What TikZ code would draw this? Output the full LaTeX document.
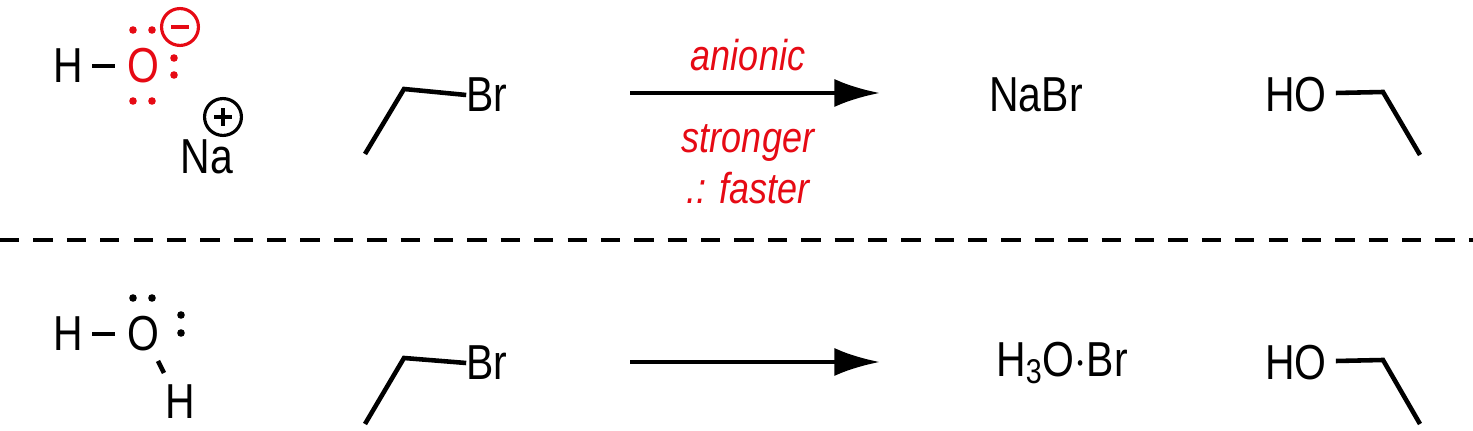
\documentclass[tikz,border=0pt]{standalone}
\usepackage{fontspec}
\setmainfont{Liberation Sans}
\usetikzlibrary{arrows.meta}
\definecolor{chemred}{RGB}{230,10,20}
\newcommand{\tall}[1]{\scalebox{1}[1.2]{#1}}
\tikzset{
	atom/.style={inner sep=0pt, font=\fontsize{23.3}{26}\selectfont},
	cond/.style={inner sep=0pt, text=chemred, font=\fontsize{20.5}{24}\selectfont\itshape},
	bond/.style={line width=2.6pt},
	charge/.style={circle, draw, line width=1.8pt, minimum size=21pt, inner sep=0pt}
}
\begin{document}
\begin{tikzpicture}[x=0.02cm, y=-0.02cm]
	\useasboundingbox (0,0) rectangle (1473,431);
	% Hydroxide
	\node[atom] (H1) at (68,66) {\tall{H}};
	\node[atom, text=chemred] (O1) at (143,66) {\tall{O}};
	\draw[bond] (92,66) -- (115,66);
	\fill[chemred] (133,30) circle[radius=3.8] (152,30) circle[radius=3.8]
		(174,58) circle[radius=3.8] (174,75) circle[radius=3.8]
		(133,101) circle[radius=3.8] (152,101) circle[radius=3.8];
	\node[charge, draw=chemred] (minus) at (180,27) {};
	\draw[chemred, line width=2pt] ([xshift=-5pt]minus.center) -- ([xshift=5pt]minus.center);
	\node[charge] (plus) at (223,117) {};
	\draw[line width=2pt] ([xshift=-5pt]plus.center) -- ([xshift=5pt]plus.center)
		([yshift=-5pt]plus.center) -- ([yshift=5pt]plus.center);
	\node[atom] (Na) at (207,157) {\tall{Na}};
	% Bromoethane
	\coordinate (c1) at (365,154);
	\node[atom] (Br1) at (487,95) {\tall{Br}};
	\draw[bond] (c1) -- (404,89) -- (Br1.west);
	% Arrow
	\coordinate (a1) at (630,93);
	\coordinate (a2) at (880,93);
	\draw[bond, -{Latex[length=26pt, width=16pt]}] (a1) -- (a2);
	\node[cond] (l1) at (748,55) {\tall{anionic}};
	\node[cond] (l2) at (748,143) {\tall{stronger}};
	\node[cond] (l3) at (748,188) {\tall{.: faster}};
	% Products
	\node[atom] (NaBr) at (1036,95) {\tall{NaBr}};
	\node[atom] (HO1) at (1296,95) {\tall{HO}};
	\coordinate (e1) at (1420,155);
	\draw[bond] (HO1.east) ++(5pt,-2) -- (1383,92) -- (e1);
	% Separator
	\draw[line width=2.6pt, dash pattern=on 11pt off 8pt] (0,240) -- (1473,240);
	% Water
	\node[atom] (H2) at (68,334) {\tall{H}};
	\node[atom] (O2) at (143,334) {\tall{O}};
	\node[atom] (H3) at (180,402) {\tall{H}};
	\draw[bond] (92,334) -- (115,334);
	\draw[bond] (158,361) -- (164,373);
	\fill (133,298) circle[radius=3.8] (152,298) circle[radius=3.8]
		(181,315) circle[radius=3.8] (181,333) circle[radius=3.8];
	% Bromoethane
	\coordinate (c2) at (365,424);
	\node[atom] (Br2) at (487,363) {\tall{Br}};
	\draw[bond] (c2) -- (404,358) -- (Br2.west);
	% Arrow
	\coordinate (b1) at (630,362);
	\coordinate (b2) at (880,362);
	\draw[bond, -{Latex[length=26pt, width=16pt]}] (b1) -- (b2);
	% Products
	\node[atom] (H3OBr) at (1062,363) {\tall{H\textsubscript{3}O$\cdot$Br}};
	\node[atom] (HO2) at (1296,363) {\tall{HO}};
	\coordinate (e2) at (1420,424);
	\draw[bond] (HO2.east) ++(5pt,-2) -- (1383,360) -- (e2);
\end{tikzpicture}
\end{document}
